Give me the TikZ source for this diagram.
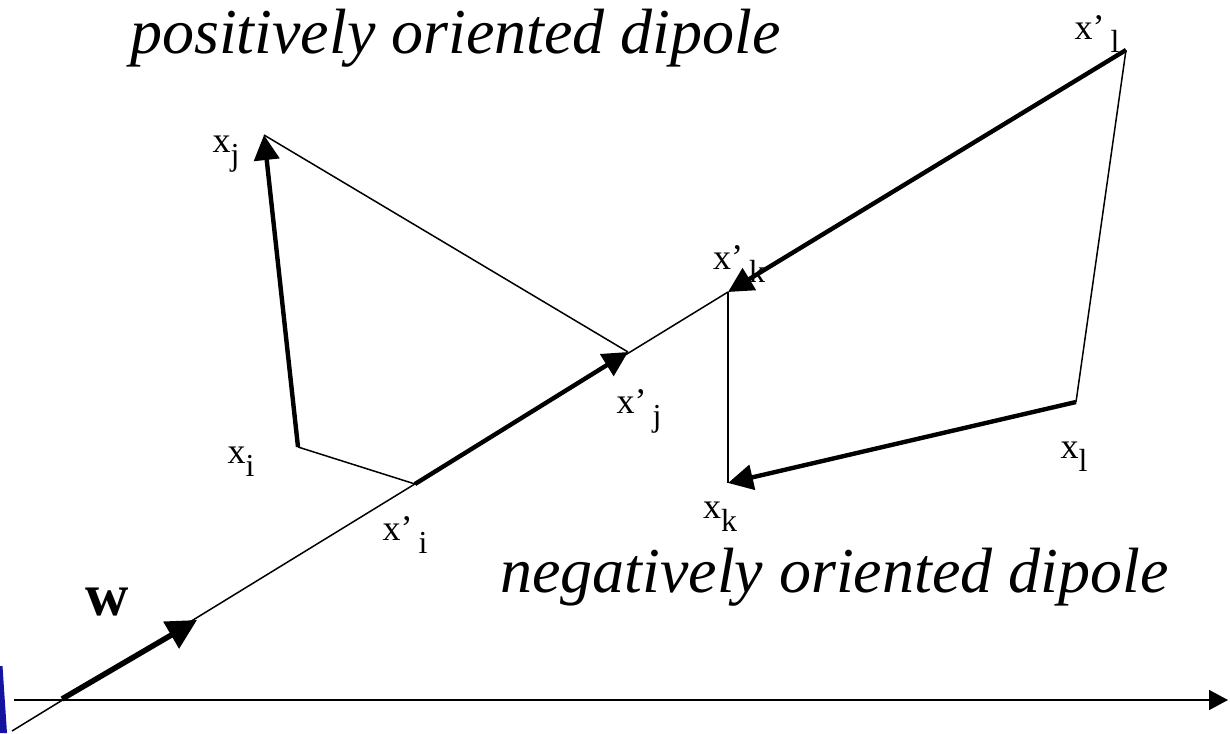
\documentclass[tikz,border=0pt]{standalone}
\usepackage{fontspec}
\setmainfont{Liberation Serif}
\usetikzlibrary{arrows.meta}
\definecolor{sliverblue}{RGB}{20,20,160}
\newcommand\lx[2]{{\fontsize{36}{40}\selectfont x#1\raisebox{-13pt}{\fontsize{32}{36}\selectfont #2}}}
\begin{document}
\begin{tikzpicture}[x=1pt,y=-1pt,
  thinln/.style={line width=1.5pt},
  thickln/.style={line width=4.4pt},
  bigtip/.style={-{Triangle[length=30pt,width=30pt]}},
  midtip/.style={-{Triangle[length=25pt,width=25pt]}},
  axistip/.style={-{Triangle[length=19pt,width=20pt]}},
  lbl/.style={inner sep=0pt},
  ttl/.style={inner sep=0pt,anchor=base west,font=\fontsize{64}{70}\selectfont\itshape}]
\useasboundingbox (0,0) rectangle (1230,733);
\fill[sliverblue] (0,666) -- (2.5,666) -- (7,733) -- (0,733) -- cycle;
% points
\coordinate (ax0) at (14,700);
\coordinate (ax1) at (1228,700);
\coordinate (w0) at (12,731);
\coordinate (wa) at (62,699);
\coordinate (wb) at (197,620);
\coordinate (xpi) at (415,484);
\coordinate (xpj) at (628,352);
\coordinate (xpk) at (728,292);
\coordinate (xpl) at (1126,50);
\coordinate (xi) at (298,447);
\coordinate (xj) at (264,135);
\coordinate (xk) at (728,483);
\coordinate (xl) at (1076,402);
% axis
\draw[thinln,axistip] (ax0) -- (ax1);
% w line (thin)
\draw[thinln] (w0) -- (xpk);
% thin connectors
\draw[thinln] (xj) -- (xpj);
\draw[thinln] (xi) -- (xpi);
\draw[thinln] (xpk) -- (xk);
\draw[thinln] (xpl) -- (xl);
% thick arrows
\draw[line width=5.5pt,bigtip] (wa) -- (wb);
\draw[thickln,midtip] (xpi) -- (xpj);
\draw[thickln,midtip] (xpl) -- (xpk);
\draw[thickln,midtip] (xi) -- (xj);
\draw[thickln,midtip] (xl) -- (xk);
% labels
\node[lbl] (lxj) at (226,154) {\lx{}{j}};
\node[lbl] (lxi) at (241,462) {\lx{}{i}};
\node[lbl] (lxpi) at (405,535) {\lx{’\,}{i}};
\node[lbl] (lxpj) at (639,411) {\lx{’\,}{j}};
\node[lbl] (lxpk) at (739,264) {\lx{’\,}{k}};
\node[lbl] (lxpl) at (1097,34) {\lx{’\,}{l}};
\node[lbl] (lxl) at (1074,457) {\lx{}{l}};
\node[lbl] (lxk) at (720,517) {\lx{}{k}};
\node[lbl,font=\fontsize{60}{64}\selectfont\bfseries] (lw) at (107,602) {w};
\node[ttl] (t1) at (130,54) {positively oriented dipole};
\node[ttl] (t2) at (500,592) {negatively oriented dipole};
\end{tikzpicture}
\end{document}
